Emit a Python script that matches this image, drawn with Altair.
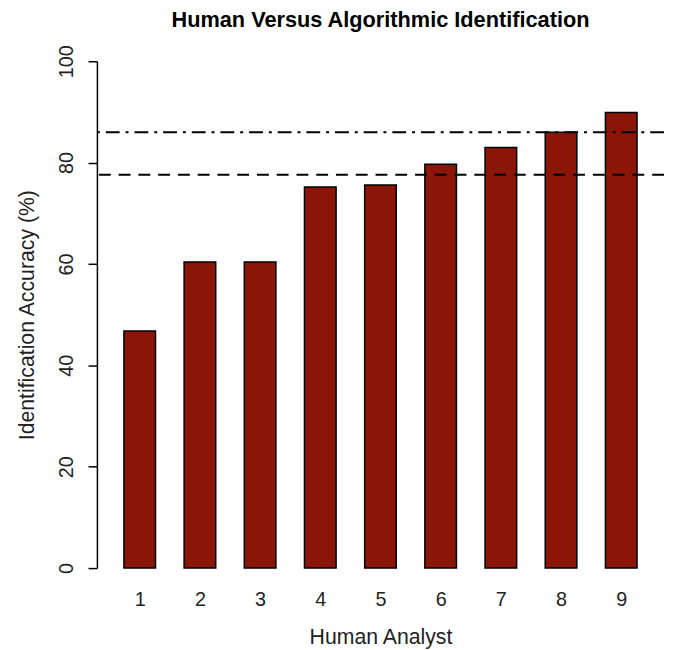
import altair as alt
import pandas as pd

analysts = [1, 2, 3, 4, 5, 6, 7, 8, 9]
accuracy = [46.8, 60.4, 60.4, 75.2, 75.6, 79.7, 83.0, 86.0, 89.9]
ref_names = ["dashdot", "dashed"]
ref_values = [86.0, 77.6]

bars_df = pd.DataFrame({"analyst": analysts, "accuracy": accuracy})
ref_df = pd.DataFrame({"name": ref_names, "value": ref_values})

FONT = "Liberation Sans"

x_scale = alt.Scale(domain=[0.371, 9.629], nice=False, zero=False)
y_scale = alt.Scale(domain=[0, 100], nice=False)

y_axis = alt.Axis(title="Identification Accuracy (%)", values=[0, 20, 40, 60, 80, 100],
                  grid=False, domainColor="black", domainWidth=1.5,
                  tickColor="black", tickWidth=1.5, tickSize=9,
                  labelAngle=270, labelAlign="center", labelBaseline="bottom",
                  labelFontSize=20, labelPadding=12, labelColor="#222",
                  titleFontSize=21.5, titleFontWeight="normal", titlePadding=18,
                  titleColor="#222", labelFont=FONT, titleFont=FONT)

bars = alt.Chart(bars_df).mark_bar(
    size=32, color="#8B1507", stroke="black", strokeWidth=1.5
).encode(
    x=alt.X("analyst:Q", scale=x_scale,
            axis=alt.Axis(title="Human Analyst", values=analysts, format="d",
                          domain=False, ticks=False, grid=False,
                          labelFontSize=20, labelPadding=22, labelColor="#222",
                          titleFontSize=21.5, titleFontWeight="normal", titlePadding=17,
                          titleColor="#222", labelFont=FONT, titleFont=FONT)),
    y=alt.Y("accuracy:Q", scale=y_scale, axis=y_axis),
)

dashdot = alt.Chart(ref_df).transform_filter(alt.datum.name == "dashdot").mark_rule(
    color="black", strokeWidth=2, strokeDash=[14, 6, 3, 6]
).encode(y=alt.Y("value:Q", scale=y_scale, axis=y_axis))

dashed = alt.Chart(ref_df).transform_filter(alt.datum.name == "dashed").mark_rule(
    color="black", strokeWidth=2, strokeDash=[12, 8]
).encode(y=alt.Y("value:Q", scale=y_scale, axis=y_axis))

chart = alt.layer(bars, dashdot, dashed).properties(
    width=574, height=513,
    background="white",
    title=alt.TitleParams("Human Versus Algorithmic Identification", font=FONT,
                          fontSize=22, fontWeight="bold", color="black", offset=13),
    autosize=alt.AutoSizeParams(type="none"),
    padding={"left": 90, "top": 50, "right": 2, "bottom": 78},
).configure_view(stroke=None).configure_axis(grid=False)

chart.save("out.html", embed_options={"renderer": "svg", "actions": False})
